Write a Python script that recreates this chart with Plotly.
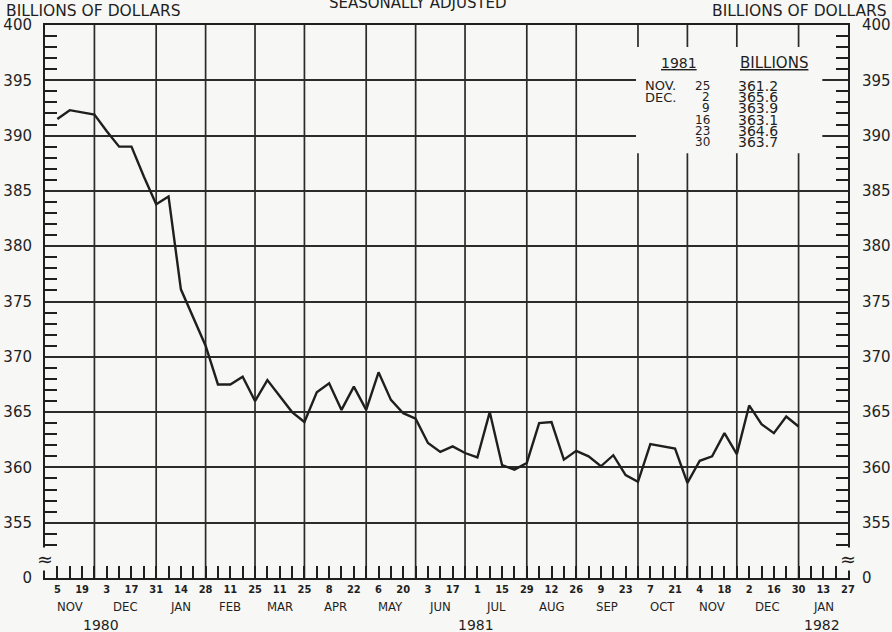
import pandas as pd
import plotly.graph_objects as go

# ---------------- data ----------------
first_week = "1980-11-05"
values = [391.5, 392.3, 392.1, 391.9, 390.4, 389.0, 389.0, 386.3, 383.8, 384.5,
          376.1, 373.5, 371.0, 367.5, 367.5, 368.2, 366.0, 367.9, 366.5, 365.0,
          364.1, 366.8, 367.6, 365.2, 367.3, 365.2, 368.6, 366.1, 364.9, 364.4,
          362.2, 361.4, 361.9, 361.3, 360.9, 365.0, 360.2, 359.8, 360.4, 364.0,
          364.1, 360.7, 361.5, 361.0, 360.1, 361.1, 359.3, 358.7, 362.1, 361.9,
          361.7, 358.6, 360.6, 361.0, 363.1, 361.2, 365.6, 363.9, 363.1, 364.6,
          363.7]
dates = pd.date_range(first_week, periods=len(values), freq="7D")

x_start, x_end = "1980-10-29", "1982-01-27"
month_end_weeks = ["1980-11-26", "1980-12-31", "1981-01-28", "1981-02-25", "1981-03-25",
                   "1981-04-29", "1981-05-27", "1981-06-24", "1981-07-29", "1981-08-26",
                   "1981-09-30", "1981-10-28", "1981-11-25", "1981-12-30", "1982-01-27"]
month_labels = ["NOV", "DEC", "JAN", "FEB", "MAR", "APR", "MAY", "JUN", "JUL",
                "AUG", "SEP", "OCT", "NOV", "DEC", "JAN"]
year_labels = ["1980", "1981", "1982"]
year_anchor = ["1980-11-30", "1981-06-30", "1982-01-12"]

y_tick_vals = [350, 355, 360, 365, 370, 375, 380, 385, 390, 395, 400]
y_tick_text = ["0", "355", "360", "365", "370", "375", "380", "385", "390", "395", "400"]

table_year = "1981"
table_head = "BILLIONS"
table_month = ["NOV.", "DEC.", "", "", "", ""]
table_day = ["25", "2", "9", "16", "23", "30"]
table_value = ["361.2", "365.6", "363.9", "363.1", "364.6", "363.7"]

# ---------------- styling ----------------
BG = "#f7f7f5"
INK = "#1f1f1f"
GRID = "#2b2b2b"
FONT_C = "DejaVu Sans Condensed, DejaVu Sans, sans-serif"
FONT_W = "DejaVu Sans, sans-serif"

tick_dates = pd.date_range(x_start, x_end, freq="7D")[1:]
tick_text = [str(d.day) if i % 2 == 0 else "" for i, d in enumerate(tick_dates)]
minor_y = [v for v in range(353, 400) if v % 5 != 0]

fig = go.Figure()
fig.add_trace(go.Scatter(x=dates, y=values, mode="lines",
                         line=dict(color=INK, width=2.4),
                         showlegend=False, hoverinfo="skip"))
fig.add_trace(go.Scatter(x=[dates[0]], y=[None], yaxis="y2", mode="lines",
                         showlegend=False, hoverinfo="skip"))

yaxis_common = dict(range=[350, 400], tickmode="array", tickvals=y_tick_vals,
                    ticktext=y_tick_text, ticks="", zeroline=False, automargin=False,
                    tickfont=dict(family=FONT_W, size=15, color=INK),
                    minor=dict(tickmode="array", tickvals=minor_y, ticks="inside",
                               ticklen=12, tickwidth=1.6, tickcolor=INK, showgrid=False))

fig.update_layout(
    width=892, height=632,
    margin=dict(l=45, r=44, t=25, b=54),
    paper_bgcolor=BG, plot_bgcolor=BG,
    showlegend=False,
    xaxis=dict(type="date", range=[x_start, x_end], tickmode="array",
               tickvals=tick_dates, ticktext=tick_text, ticks="inside",
               ticklen=12, tickwidth=1.6, tickcolor=INK, showgrid=False,
               showline=True, linecolor=INK, linewidth=2, mirror=True,
               zeroline=False, tickangle=0, automargin=False,
               tickfont=dict(family=FONT_C, size=11, color=INK, weight="bold")),
    yaxis=dict(**yaxis_common, showgrid=True, gridcolor=GRID, gridwidth=1.7,
               showline=True, linecolor=INK, linewidth=2, mirror=True,
               ticklabelstandoff=8),
    yaxis2=dict(**yaxis_common, overlaying="y", side="right", showgrid=False,
                showline=False, ticklabelstandoff=13),
)

# vertical month grid lines
for d in month_end_weeks[:-1]:
    fig.add_shape(type="line", xref="x", yref="paper", x0=d, x1=d, y0=0, y1=1,
                  line=dict(color=GRID, width=1.7), layer="below")

# blank box behind the table
fig.add_shape(type="rect", xref="paper", yref="y", x0=0.736, x1=0.968,
              y0=388.4, y1=398.0, fillcolor=BG, line=dict(width=0), layer="above")

# month labels centred between grid lines
bounds = [pd.Timestamp(x_start)] + [pd.Timestamp(d) for d in month_end_weeks]
for i, m in enumerate(month_labels):
    mid = bounds[i] + (bounds[i + 1] - bounds[i]) / 2
    fig.add_annotation(x=mid, xref="x", y=0, yref="paper", yshift=-28,
                       text=m, showarrow=False, xanchor="center", yanchor="middle",
                       font=dict(family=FONT_C, size=13, color=INK))
for t, d in zip(year_labels, year_anchor):
    fig.add_annotation(x=d, xref="x", y=0, yref="paper", yshift=-47,
                       text=t, showarrow=False, xanchor="center", yanchor="middle",
                       font=dict(family=FONT_W, size=14, color=INK))

# axis break marks
for xp in (0, 1):
    fig.add_annotation(x=xp, xref="paper", y=351.7, yref="y", text="≈",
                       showarrow=False, bgcolor=BG, borderpad=0,
                       xanchor="center", yanchor="middle",
                       font=dict(family=FONT_W, size=19, color=INK))

# header texts
fig.add_annotation(x=0, xref="paper", xshift=-41, y=1, yref="paper", yshift=14,
                   text="BILLIONS OF DOLLARS", showarrow=False, xanchor="left",
                   yanchor="middle", font=dict(family=FONT_W, size=15.5, color=INK))
fig.add_annotation(x=1, xref="paper", xshift=41, y=1, yref="paper", yshift=14,
                   text="BILLIONS OF DOLLARS", showarrow=False, xanchor="right",
                   yanchor="middle", font=dict(family=FONT_W, size=15.5, color=INK))
fig.add_annotation(x=0.465, xref="paper", y=1, yref="paper", yshift=22,
                   text="SEASONALLY ADJUSTED", showarrow=False, xanchor="center",
                   yanchor="middle", font=dict(family=FONT_W, size=15, color=INK))

# inset table
fig.add_annotation(x=0.789, xref="paper", y=396.6, yref="y", text="<u>" + table_year + "</u>",
                   showarrow=False, xanchor="center", yanchor="middle",
                   font=dict(family=FONT_W, size=14, color=INK))
fig.add_annotation(x=0.908, xref="paper", y=396.6, yref="y", text="<u>" + table_head + "</u>",
                   showarrow=False, xanchor="center", yanchor="middle",
                   font=dict(family=FONT_W, size=15, color=INK))
for k in range(len(table_value)):
    yv = 394.5 - k * 1.02
    if table_month[k]:
        fig.add_annotation(x=0.745, xref="paper", y=yv, yref="y", text=table_month[k],
                           showarrow=False, xanchor="left", yanchor="middle",
                           font=dict(family=FONT_W, size=13, color=INK))
    fig.add_annotation(x=0.831, xref="paper", y=yv, yref="y", text=table_day[k],
                       showarrow=False, xanchor="right", yanchor="middle",
                       font=dict(family=FONT_W, size=12, color=INK))
    fig.add_annotation(x=0.861, xref="paper", y=yv, yref="y", text=table_value[k],
                       showarrow=False, xanchor="left", yanchor="middle",
                       font=dict(family=FONT_W, size=14, color=INK))

fig.write_html("out.html", config={"displayModeBar": False},
               post_script="document.body.style.margin='0';")
